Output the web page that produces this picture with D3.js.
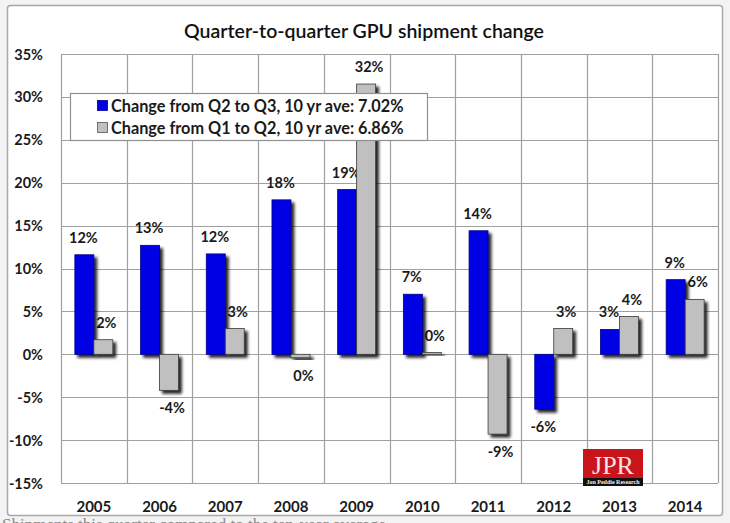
<!DOCTYPE html>
<html><head><meta charset="utf-8">
<script src="https://cdn.jsdelivr.net/npm/d3@7"></script>
<style>
html,body{margin:0;padding:0;background:#f3f3f3;}
svg{display:block;}
text{font-family:Lato, "Open Sans", sans-serif;}
</style></head>
<body>
<script>
const years = ["2005","2006","2007","2008","2009","2010","2011","2012","2013","2014"];
const q2toq3 = [11.6, 12.7, 11.7, 18.0, 19.2, 7.0, 14.4, -6.4, 2.9, 8.7];
const q1toq2 = [1.7, -4.2, 3.0, -0.4, 31.5, 0.2, -9.3, 3.0, 4.4, 6.4];
const seriesNames = ["Change from Q2 to Q3, 10 yr ave: 7.02%", "Change from Q1 to Q2, 10 yr ave: 6.86%"];
const yTicks = [-15, -10, -5, 0, 5, 10, 15, 20, 25, 30, 35];
const title = "Quarter-to-quarter GPU shipment change";
const caption = "Shipments this quarter compared to the ten-year average.";
const colors = ["#0000e4", "#c0c0c0"];

const W = 730, H = 523;
const svg = d3.select("body").append("svg").attr("width", W).attr("height", H);

const defs = svg.append("defs");
const f = defs.append("filter").attr("id","shadow").attr("x","-30%").attr("y","-30%").attr("width","180%").attr("height","180%");
f.append("feDropShadow").attr("dx",3).attr("dy",3).attr("stdDeviation",1.5).attr("flood-color","#000").attr("flood-opacity",0.85);

// cropped caption text below frame (cut off in the reference too)
svg.append("text").attr("x", 2).attr("y", 530)
  .attr("font-size", 17).attr("fill", "#8a8a8a").style("font-family","'Liberation Serif', serif")
  .text(caption);

// outer frame
svg.append("rect").attr("x", 7.5).attr("y", 5.5).attr("width", 715).attr("height", 510)
  .attr("rx", 3).attr("fill", "#fff").attr("stroke", "#a8a8a8").attr("stroke-width", 1.5);

const plot = {left: 61, right: 718, top: 54, bottom: 483};
const x = d3.scaleBand().domain(years).range([plot.left, plot.right]).padding(0);
const x1 = d3.scaleBand().domain([0,1]).range([0, x.bandwidth()]).paddingInner(0).paddingOuter(0.73);
const y = d3.scaleLinear().domain([-15, 35]).range([plot.bottom, plot.top]);

// gridlines
const grid = svg.append("g").attr("stroke", "#a0a0a0").attr("stroke-width", 1.2);
grid.selectAll("line.h").data(yTicks).join("line")
  .attr("x1", plot.left).attr("x2", plot.right)
  .attr("y1", d => Math.round(y(d)) + 0.5).attr("y2", d => Math.round(y(d)) + 0.5);
grid.selectAll("line.v").data(years.concat(["end"])).join("line")
  .attr("x1", (d,i) => Math.round(i < years.length ? x(d) : plot.right) + 0.5)
  .attr("x2", (d,i) => Math.round(i < years.length ? x(d) : plot.right) + 0.5)
  .attr("y1", plot.top).attr("y2", plot.bottom);

// title
svg.append("text").attr("x", 364).attr("y", 38).attr("text-anchor", "middle")
  .attr("font-size", 19.5).attr("font-weight", 600).attr("fill", "#111").text(title);

// y axis
const yAxis = d3.axisLeft(y).tickValues(yTicks).tickSize(0).tickPadding(0).tickFormat(d => d + "%");
const ya = svg.append("g").attr("transform", "translate(43,0)").call(yAxis);
ya.select(".domain").remove();
ya.selectAll("text").attr("font-size", 14.5).attr("font-weight", 700).attr("fill", "#1a1a1a")
  .style("font-family", "Lato, sans-serif").attr("dy", "0.35em");

// x axis
const xAxis = d3.axisBottom(x).tickSize(0).tickPadding(0);
const xa = svg.append("g").attr("transform", `translate(0,${plot.bottom})`).call(xAxis);
xa.select(".domain").remove();
xa.selectAll("text").attr("font-size", 15).attr("font-weight", 700).attr("fill", "#1a1a1a")
  .style("font-family", "Lato, sans-serif").attr("dy", 0).attr("y", 29);

// data
const data = [];
years.forEach((yr, i) => {
  data.push({yr, s: 0, v: q2toq3[i]});
  data.push({yr, s: 1, v: q1toq2[i]});
});

// labels (drawn under bars like the reference)
svg.append("g").selectAll("text").data(data).join("text")
  .attr("x", d => x(d.yr) + x1(d.s) + x1.bandwidth() / 2 + (d.s === 1 ? 3 : -1))
  .attr("y", d => d.v >= 0 ? y(d.v) - 12 : y(d.v) + 23)
  .attr("text-anchor", "middle").attr("font-size", 14.5).attr("font-weight", 700).attr("fill", "#1a1a1a")
  .text(d => Math.round(d.v) === 0 ? "0%" : Math.round(d.v) + "%");

// bars
svg.append("g").selectAll("rect").data(data).join("rect")
  .attr("x", d => x(d.yr) + x1(d.s))
  .attr("width", x1.bandwidth())
  .attr("y", d => y(Math.max(0, d.v)))
  .attr("height", d => Math.max(1.5, Math.abs(y(d.v) - y(0))))
  .attr("fill", d => colors[d.s])
  .attr("stroke", d => d.s === 0 ? "#00008a" : "#3a3a3a").attr("stroke-width", 0.8)
  .attr("filter", "url(#shadow)");

// legend
const lg = svg.append("g");
lg.append("rect").attr("x", 70.5).attr("y", 93.5).attr("width", 357).attr("height", 47)
  .attr("fill", "#fff").attr("stroke", "#909090").attr("stroke-width", 1.2);
seriesNames.forEach((name, i) => {
  const cy = 106 + i * 22;
  lg.append("rect").attr("x", 97.5).attr("y", cy - 5.5).attr("width", 10).attr("height", 10)
    .attr("fill", colors[i]).attr("stroke", i === 0 ? "#00008a" : "#555").attr("stroke-width", 0.8);
  const t = lg.append("text").attr("x", 111).attr("y", cy).attr("dy", "0.36em")
    .attr("font-size", 14.5).attr("font-weight", 700).attr("fill", "#1a1a1a").text(name);
  const w = t.node().getComputedTextLength();
  t.attr("font-size", 14.5 * 293 / w);
});

// JPR logo
const logo = svg.append("g");
logo.append("rect").attr("x", 583).attr("y", 449).attr("width", 60).attr("height", 37).attr("fill", "#111");
logo.append("rect").attr("x", 583).attr("y", 449).attr("width", 60).attr("height", 29).attr("fill", "#c8141a");
logo.append("text").attr("x", 613).attr("y", 474).attr("text-anchor", "middle")
  .style("font-family", "'Liberation Serif', 'DejaVu Serif', serif").attr("font-size", 26)
  .attr("fill", "#fbe3e3").text("JPR");
logo.append("text").attr("x", 613).attr("y", 484).attr("text-anchor", "middle")
  .style("font-family", "'Liberation Serif', serif").attr("font-size", 6).attr("font-weight", 700)
  .attr("fill", "#eee").text("Jon Peddie Research");
</script>
</body></html>
